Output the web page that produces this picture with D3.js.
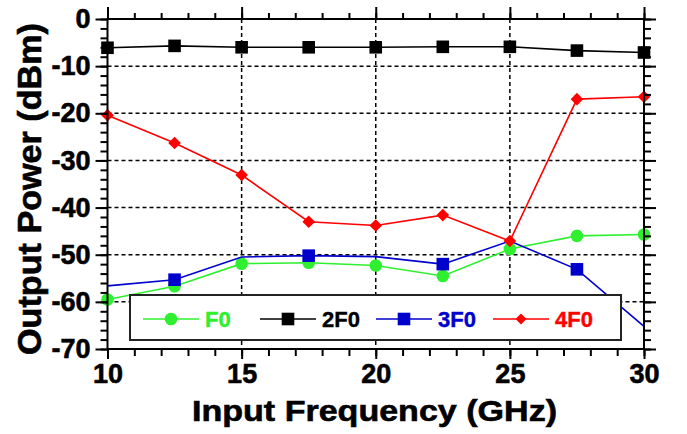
<!DOCTYPE html>
<html><head><meta charset="utf-8">
<script src="https://cdn.jsdelivr.net/npm/d3@7"></script>
<style>
html,body{margin:0;padding:0;background:#fff;}
svg{display:block;font-family:"Liberation Sans",Arial,sans-serif;font-weight:bold;}
</style></head>
<body>
<svg id="c" width="687" height="434"></svg>
<script>
const freq = [10, 12.5, 15, 17.5, 20, 22.5, 25, 27.5, 30];
const f0  = [-59.5, -56.7, -51.9, -51.7, -52.3, -54.5, -48.8, -46.0, -45.7];
const f2  = [-6.1, -5.7, -6.0, -6.0, -6.0, -5.9, -5.9, -6.7, -7.1];
const f3  = [-56.6, -55.3, -50.5, -50.2, -50.4, -52.0, -47.1, -53.1, -65.2];
const f4  = [-20.4, -26.3, -33.1, -43.0, -43.8, -41.6, -47.1, -17.0, -16.5];
const seriesNames = ["F0", "2F0", "3F0", "4F0"];
const xTicks = [10, 15, 20, 25, 30];
const yTicks = [0, -10, -20, -30, -40, -50, -60, -70];
const xTitle = "Input Frequency (GHz)";
const yTitle = "Output Power (dBm)";

const series = [
  {name: seriesNames[0], values: f0, color: "#2ef02e", sym: "circle", every: 1, start: 0},
  {name: seriesNames[1], values: f2, color: "#000000", sym: "square", every: 1, start: 0},
  {name: seriesNames[2], values: f3, color: "#0000cc", sym: "square", every: 2, start: 1},
  {name: seriesNames[3], values: f4, color: "#ff0000", sym: "diamond", every: 1, start: 0}
];

const svg = d3.select("#c");
const L = 107.5, R = 644, T = 19, B = 349;
const x = d3.scaleLinear().domain([10, 30]).range([L, R]);
const y = d3.scaleLinear().domain([-70, 0]).range([B, T]);

// grid
const g = svg.append("g");
g.selectAll(".gy").data(yTicks.filter(v => v < 0 && v > -70)).enter().append("line")
  .attr("x1", L).attr("x2", R).attr("y1", d => y(d)).attr("y2", d => y(d))
  .attr("stroke", "#000").attr("stroke-width", 1.5).attr("stroke-dasharray", "4,3");
g.selectAll(".gx").data(xTicks.filter(v => v > 10 && v < 30)).enter().append("line")
  .attr("y1", T).attr("y2", B).attr("x1", d => x(d)).attr("x2", d => x(d))
  .attr("stroke", "#000").attr("stroke-width", 1.5).attr("stroke-dasharray", "4,3");

// series lines and markers
function symPath(sym, r) {
  if (sym === "circle") return d3.symbol().type(d3.symbolCircle).size(Math.PI * r * r)();
  if (sym === "square") return `M${-r},${-r}H${r}V${r}H${-r}Z`;
  return `M0,${-r}L${r},0L0,${r}L${-r},0Z`;
}
const symR = {circle: 6.3, square: 6.3, diamond: 6.3};
series.forEach(s => {
  const pts = freq.map((f, i) => [f, s.values[i]]);
  svg.append("path").datum(pts)
    .attr("d", d3.line().x(d => x(d[0])).y(d => y(d[1])))
    .attr("fill", "none").attr("stroke", s.color).attr("stroke-width", 1.6);
  svg.selectAll(null).data(pts.filter((d, i) => i >= s.start && (i - s.start) % s.every === 0))
    .enter().append("path")
    .attr("transform", d => `translate(${x(d[0])},${y(d[1])})`)
    .attr("d", symPath(s.sym, symR[s.sym]))
    .attr("fill", s.color);
});

// axes
function styleAxis(sel) {
  sel.select(".domain").remove();
  sel.selectAll("line").attr("stroke", "#000").attr("stroke-width", 2);
}
function styleText(sel) {
  sel.attr("font-size", 27).attr("font-weight", "bold").attr("fill", "#000")
    .attr("stroke", "#000").attr("stroke-width", 0.6)
    .attr("font-family", "Liberation Sans, Arial, sans-serif");
}
const xMinor = d3.range(10, 31, 1);
const yMinor = d3.range(-70, 1, 2);
const fmt = d => String(d);
// bottom
svg.append("g").attr("transform", `translate(0,${B})`)
  .call(d3.axisBottom(x).tickValues(xMinor).tickSize(7).tickFormat(""))
  .call(styleAxis);
svg.append("g").attr("transform", `translate(0,${B})`)
  .call(d3.axisBottom(x).tickValues(xTicks).tickSize(10).tickPadding(5).tickFormat(fmt))
  .call(styleAxis)
  .selectAll("text").call(styleText);
// top
svg.append("g").attr("transform", `translate(0,${T})`)
  .call(d3.axisTop(x).tickValues(xMinor).tickSize(6).tickFormat("")).call(styleAxis);
svg.append("g").attr("transform", `translate(0,${T})`)
  .call(d3.axisTop(x).tickValues(xTicks).tickSize(12).tickFormat("")).call(styleAxis);
// left
svg.append("g").attr("transform", `translate(${L},0)`)
  .call(d3.axisLeft(y).tickValues(yMinor).tickSize(7).tickFormat("")).call(styleAxis);
svg.append("g").attr("transform", `translate(${L},0)`)
  .call(d3.axisLeft(y).tickValues(yTicks).tickSize(12).tickPadding(5).tickFormat(fmt))
  .call(styleAxis)
  .selectAll("text").call(styleText);
// right
svg.append("g").attr("transform", `translate(${R},0)`)
  .call(d3.axisRight(y).tickValues(yMinor).tickSize(7).tickFormat("")).call(styleAxis);
svg.append("g").attr("transform", `translate(${R},0)`)
  .call(d3.axisRight(y).tickValues(yTicks).tickSize(12).tickFormat("")).call(styleAxis);

// frame
svg.append("rect").attr("x", L).attr("y", T).attr("width", R - L).attr("height", B - T)
  .attr("fill", "none").attr("stroke", "#000").attr("stroke-width", 2);

// titles
svg.append("text").attr("x", 192).attr("y", 421)
  .attr("textLength", 365).attr("lengthAdjust", "spacingAndGlyphs")
  .attr("font-size", 30).attr("fill", "#000").attr("stroke", "#000").attr("stroke-width", 0.6)
  .text(xTitle);
svg.append("text").attr("transform", `translate(41,355) rotate(-90)`)
  .attr("textLength", 332).attr("lengthAdjust", "spacingAndGlyphs")
  .attr("font-size", 33).attr("fill", "#000").attr("stroke", "#000").attr("stroke-width", 0.6)
  .text(yTitle);

// legend
const lg = svg.append("g");
lg.append("rect").attr("x", 130).attr("y", 295).attr("width", 491).attr("height", 45)
  .attr("fill", "#fff").attr("stroke", "#222").attr("stroke-width", 2);
const legX = [143, 260, 376, 493];
series.forEach((s, i) => {
  const x0 = legX[i], yy = 319;
  lg.append("line").attr("x1", x0).attr("x2", x0 + 56).attr("y1", yy).attr("y2", yy)
    .attr("stroke", s.color).attr("stroke-width", 1.6);
  lg.append("path").attr("transform", `translate(${x0 + 28},${yy})`)
    .attr("d", symPath(s.sym, s.sym === "diamond" ? 5.5 : 6.3)).attr("fill", s.color);
  lg.append("text").attr("x", x0 + 62).attr("y", yy + 8).attr("font-size", 22)
    .attr("fill", s.color).attr("stroke", s.color).attr("stroke-width", 0.4).text(s.name);
});
</script>
</body></html>
